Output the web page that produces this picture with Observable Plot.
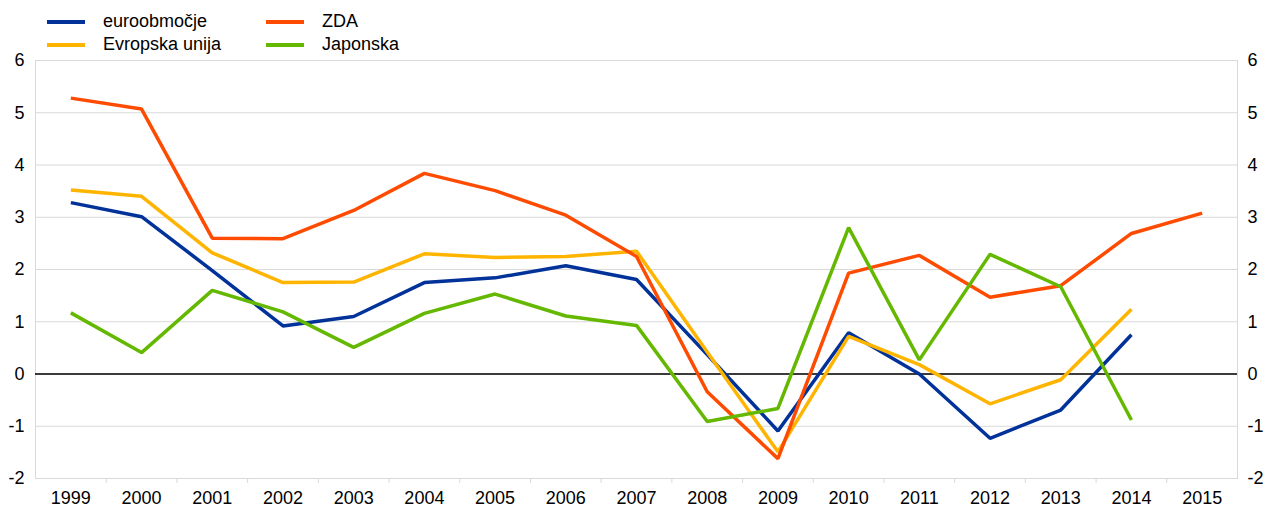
<!DOCTYPE html>
<html>
<head>
<meta charset="utf-8">
<script src="https://cdn.jsdelivr.net/npm/d3@7"></script>
<script src="https://cdn.jsdelivr.net/npm/@observablehq/plot@0.6"></script>
<style>
  html, body { margin: 0; padding: 0; background: #fff; }
  body { font-family: "Liberation Sans", Arial, sans-serif; width: 1267px; height: 507px; overflow: hidden; }
  #legend { position: relative; height: 48px; font-size: 18px; color: #000; }
  .item { position: absolute; display: flex; align-items: center; height: 23px; white-space: nowrap; }
  .sw { width: 38px; height: 4px; margin-right: 18px; }
</style>
</head>
<body>
<div id="legend"></div>
<div id="chart"></div>
<script>
const years = [1999, 2000, 2001, 2002, 2003, 2004, 2005, 2006, 2007, 2008, 2009, 2010, 2011, 2012, 2013, 2014, 2015];
const euroobmocje = [3.28, 3.01, 1.98, 0.92, 1.10, 1.75, 1.84, 2.07, 1.81, 0.37, -1.09, 0.79, 0.00, -1.23, -0.69, 0.75, null];
const evropskaUnija = [3.52, 3.40, 2.32, 1.75, 1.76, 2.30, 2.23, 2.25, 2.35, 0.42, -1.49, 0.72, 0.18, -0.57, -0.11, 1.24, null];
const zda = [5.28, 5.07, 2.60, 2.59, 3.13, 3.84, 3.51, 3.04, 2.25, -0.34, -1.62, 1.93, 2.27, 1.47, 1.69, 2.69, 3.08];
const japonska = [1.17, 0.41, 1.60, 1.19, 0.51, 1.16, 1.53, 1.11, 0.93, -0.91, -0.66, 2.80, 0.27, 2.29, 1.67, -0.88, null];
const seriesNames = ["euroobmočje", "Evropska unija", "ZDA", "Japonska"];
const seriesColors = ["#003299", "#FFB400", "#FF4B00", "#65B800"];
const yTicks = [-2, -1, 0, 1, 2, 3, 4, 5, 6];

const seriesValues = [euroobmocje, evropskaUnija, zda, japonska];
const data = [];
seriesNames.forEach((name, i) => {
  seriesValues[i].forEach((v, j) => {
    if (v !== null) data.push({series: name, year: years[j], value: v});
  });
});
const boundaries = years.slice(1).map(y => y - 0.5);

// legend
const legend = document.getElementById("legend");
const legendPos = [[47, 10], [266, 10], [47, 33], [266, 33]];
const legendOrder = [0, 2, 1, 3];
legendOrder.forEach((si, k) => {
  const it = document.createElement("div");
  it.className = "item";
  it.style.left = legendPos[k][0] + "px";
  it.style.top = legendPos[k][1] + "px";
  it.innerHTML = `<span class="sw" style="background:${seriesColors[si]}"></span><span>${seriesNames[si]}</span>`;
  legend.appendChild(it);
});

const chart = Plot.plot({
  width: 1267,
  height: 459,
  marginTop: 12,
  marginBottom: 29,
  marginLeft: 35,
  marginRight: 30,
  style: {fontFamily: "Liberation Sans, Arial, sans-serif", fontSize: "18px", color: "#000", background: "#fff", overflow: "visible"},
  x: {type: "linear", domain: [years[0] - 0.5, years[years.length - 1] + 0.5]},
  y: {domain: [-2, 6]},
  color: {domain: seriesNames, range: seriesColors},
  marks: [
    Plot.gridY(yTicks, {stroke: "#d9d9d9", strokeOpacity: 1, strokeWidth: 1}),
    Plot.frame({stroke: "#d9d9d9", strokeWidth: 1}),
    Plot.axisX(boundaries, {tickSize: 5, stroke: "#d9d9d9", tickFormat: () => "", label: null}),
    Plot.axisX(years, {tickSize: 0, tickPadding: 13, tickFormat: d => String(d), fontSize: 18, fill: "#000", label: null}),
    Plot.axisY(yTicks, {anchor: "left", tickSize: 0, tickPadding: 11, tickFormat: d => String(d), fontSize: 18, fill: "#000", label: null}),
    Plot.axisY(yTicks, {anchor: "right", tickSize: 0, tickPadding: 10, tickFormat: d => String(d), fontSize: 18, fill: "#000", label: null}),
    Plot.ruleY([0], {stroke: "#000", strokeWidth: 1.5}),
    Plot.line(data, {x: "year", y: "value", z: "series", stroke: "series", strokeWidth: 3.5, strokeLinejoin: "miter", strokeLinecap: "butt"})
  ]
});
document.getElementById("chart").appendChild(chart);
</script>
</body>
</html>
